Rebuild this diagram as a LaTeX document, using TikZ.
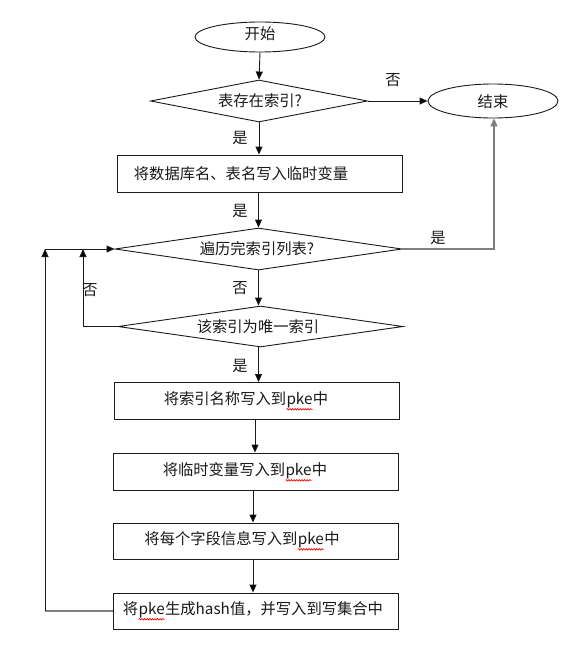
\documentclass[tikz,border=0pt]{standalone}
\usepackage{fontspec}
\newfontfamily\cjk{Noto Sans CJK SC}
\usetikzlibrary{arrows.meta,shapes.geometric,decorations.pathmorphing}
\definecolor{ln}{HTML}{1A1A1A}
\definecolor{gln}{HTML}{7F7F7F}
\newcommand\sqpke{\tikz[baseline=(w.base)]{\node[inner sep=0pt,outer sep=0pt](w){pke};\draw[red,line width=0.7pt,decorate,decoration={snake,amplitude=0.7pt,segment length=2.6pt}] ([yshift=-1.2pt]w.south west) -- ([yshift=-1.2pt]w.south east);}}
\tikzset{
  every node/.style={font=\cjk\fontsize{15.3}{18}\selectfont, text=ln},
  term/.style={ellipse, draw=ln, line width=0.9pt, minimum width=130pt, minimum height=30pt, inner sep=0pt},
  dec/.style={diamond, draw=ln, line width=0.9pt, aspect=6.9, inner sep=0pt},
  proc/.style={rectangle, draw=ln, line width=0.9pt, minimum width=285pt, minimum height=37pt, inner sep=0pt},
  arr/.style={draw=ln, line width=0.9pt, -{Triangle[length=8pt,width=7pt]}},
  garr/.style={draw=gln, line width=1.2pt, -{Triangle[length=8pt,width=7pt]}},
  lbl/.style={inner sep=0pt}
}
\begin{document}
\begin{tikzpicture}[x=1pt,y=-1pt]
\useasboundingbox[fill=white] (0,0) rectangle (586,653);
% nodes
\node[term] (start) at (260,37) {};
\node[lbl] (startt) at (260,34) {开始};
\node[term, minimum height=34pt] (end) at (493,101) {};
\node[lbl] (endt) at (493,102) {结束};
\node[dec, minimum width=217pt, minimum height=42pt] (d1) at (259,101) {};
\node[lbl] (d1t) at (260,101) {表存在索引?};
\node[proc] (r1) at (259.5,173.5) {};
\node[lbl] (r1t) at (241,174) {将数据库名、表名写入临时变量};
\node[dec, minimum width=287pt, minimum height=42pt] (d2) at (258.5,249) {};
\node[lbl] (d2t) at (257,249) {遍历完索引列表?};
\node[dec, minimum width=285pt, minimum height=41pt] (d3) at (260.5,326.5) {};
\node[lbl] (d3t) at (258,327) {该索引为唯一索引};
\node[proc] (r2) at (256.5,401) {};
\node[lbl] (r2t) at (246,401) {将索引名称写入到\sqpke 中};
\node[proc] (r3) at (255.5,471.5) {};
\node[lbl] (r3t) at (245,472) {将临时变量写入到\sqpke 中};
\node[proc, minimum height=36pt] (r4) at (255.5,541) {};
\node[lbl] (r4t) at (242,541) {将每个字段信息写入到\sqpke 中};
\node[proc, minimum height=36pt] (r5) at (255.5,611) {};
\node[lbl] (r5t) at (253,611) {将\sqpke 生成hash值，并写入到写集合中};
% edge labels
\node[lbl] (l1) at (393,80) {否};
\node[lbl] (l2) at (240,138) {是};
\node[lbl] (l3) at (240,211) {是};
\node[lbl] (l4) at (438,238) {是};
\node[lbl] (l5) at (240,288) {否};
\node[lbl] (l6) at (90,290) {否};
\node[lbl] (l7) at (240,366) {是};
% helper coordinates
\coordinate (c1) at (494,249);
\coordinate (c2) at (83,326.5);
\coordinate (c3) at (83,249);
\coordinate (c4) at (45,611);
\coordinate (c5) at (45,249);
% connectors
\draw[arr] (start.south) -- (d1.north);
\draw[arr] (d1.east) -- (end.west);
\draw[arr] (d1.south) -- (d1.south |- r1.north);
\draw[arr] (r1.south -| d2.north) -- (d2.north);
\draw[garr] (d2.east) -- (c1) -- (end.south -| c1);
\draw[arr] (d2.south) -- (d2.south |- d3.north);
\draw[arr] (d3.west) -- (c2) -- (c3);
\draw[arr] (d3.south -| d2.south) -- (d2.south |- r2.north);
\draw[arr] (r2.south -| 255,0) -- (255,0 |- r3.north);
\draw[arr] (r3.south -| 253,0) -- (253,0 |- r4.north);
\draw[arr] (r4.south -| 253,0) -- (253,0 |- r5.north);
\draw[draw=gln, line width=1.2pt] (r5.west) -- (c4);
\draw[arr] (c4) -- (c5);
\draw[arr] (c5) -- (d2.west);
\end{tikzpicture}
\end{document}
